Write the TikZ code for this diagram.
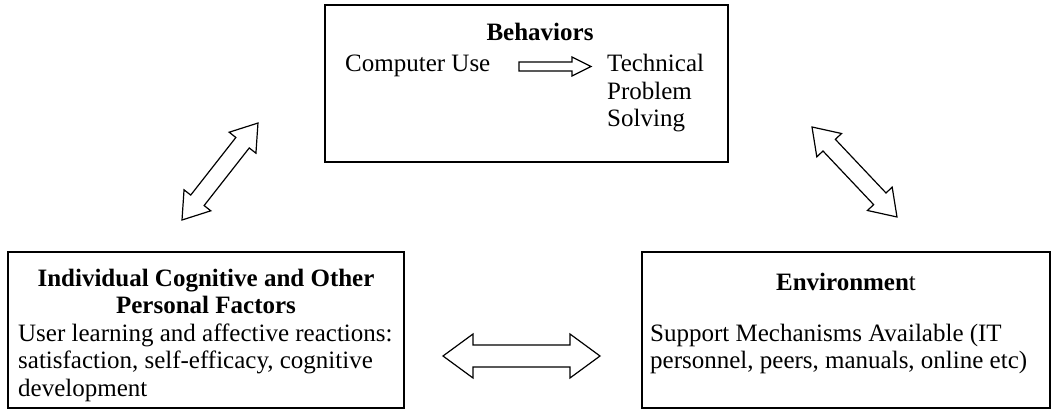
\documentclass[tikz,border=0pt]{standalone}
\usepackage{fontspec}
\setmainfont{Liberation Serif}
\usetikzlibrary{calc}
\tikzset{
  blk/.style={draw, line width=1.2pt, line join=miter, fill=white},
  boxst/.style={draw, line width=1.6pt, inner sep=0pt, rectangle, minimum height=156pt},
  txt/.style={inner sep=0pt, anchor=base west, font=\fontsize{25}{27.5}\selectfont},
  ctxt/.style={inner sep=0pt, anchor=base, font=\fontsize{25}{27.5}\selectfont\bfseries},
}
\newcommand\dblblock[5]{%
  \draw[blk] let \p1=(#1), \p2=(#2), \n1={atan2(\y2-\y1,\x2-\x1)}, \n2={veclen(\x2-\x1,\y2-\y1)} in
    [shift={(\p1)}, rotate=\n1] (0,0) -- (#3,#4) -- (#3,#5) -- ({\n2-#3},#5) -- ({\n2-#3},#4) -- (\n2,0)
    -- ({\n2-#3},-#4) -- ({\n2-#3},-#5) -- (#3,-#5) -- (#3,-#4) -- cycle;}
\begin{document}
\begin{tikzpicture}[x=1pt,y=1pt]
\useasboundingbox (0,0) rectangle (1055,410);
% boxes
\node[boxst, minimum width=403pt, minimum height=157pt] (beh) at (526.5,326.5) {};
\node[boxst, minimum width=396pt] (ind) at (206,80) {};
\node[boxst, minimum width=408pt] (env) at (846,80) {};
% behaviors text
\node[ctxt] (behT) at (540,369) {Behaviors};
\node[txt] (cu) at (345,338) {Computer Use};
\node[txt] (tp1) at (607,338) {Technical};
\node[txt] (tp2) at (607,310.5) {Problem};
\node[txt] (tp3) at (607,283) {Solving};
% individual text
\node[ctxt] (indT1) at (206,124) {Individual Cognitive and Other};
\node[ctxt] (indT2) at (206,96.5) {Personal Factors};
\node[txt] (ind1) at (18,69) {User learning and affective reactions:};
\node[txt] (ind2) at (18,41.5) {satisfaction, self-efficacy, cognitive};
\node[txt] (ind3) at (18,14) {development};
% environment text
\node[ctxt] (envT) at (846,120) {Environmen\mdseries t};
\node[txt] (env1) at (650,69) {Support Mechanisms Available (IT};
\node[txt] (env2) at (650,41.5) {personnel, peers, manuals, online etc)};
% arrow end points
\coordinate (l1) at (182,190);
\coordinate (l2) at (258,287);
\coordinate (r1) at (812,283);
\coordinate (r2) at (897,193);
\coordinate (h1) at (443,54);
\coordinate (h2) at (600,54);
\coordinate (ca) at (519,343.5);
\coordinate (cb) at (591,343.5);
% block arrows
\dblblock{l1}{l2}{25}{17}{8.5}
\dblblock{r1}{r2}{25}{17}{8.5}
\dblblock{h1}{h2}{30}{22}{11}
\draw[blk] ($(ca)+(0,4.5)$) -- ($(cb)+(-19,4.5)$) -- ($(cb)+(-19,9.5)$) -- (cb)
  -- ($(cb)+(-19,-9.5)$) -- ($(cb)+(-19,-4.5)$) -- ($(ca)+(0,-4.5)$) -- cycle;
\end{tikzpicture}
\end{document}
